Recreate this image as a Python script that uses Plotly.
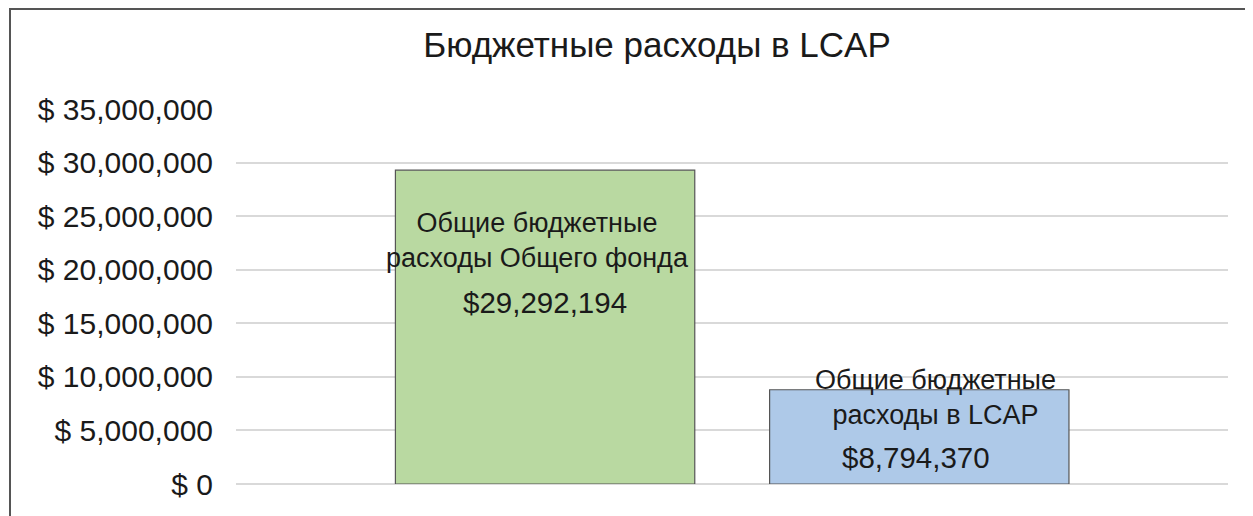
import plotly.graph_objects as go

categories = ["Общие бюджетные расходы Общего фонда", "Общие бюджетные расходы в LCAP"]
values = [29292194, 8794370]
name_labels = ["Общие бюджетные<br>расходы Общего фонда", "Общие бюджетные<br>расходы в LCAP"]
value_labels = ["$29,292,194", "$8,794,370"]
bar_colors = ["#b9d9a1", "#aec9e8"]
tick_vals = [0, 5000000, 10000000, 15000000, 20000000, 25000000, 30000000, 35000000]
tick_text = ["$ {:,}".format(v) for v in tick_vals]

FONT = "Liberation Sans, Arial, Helvetica, sans-serif"
TXT = "#1a1a1a"

fig = go.Figure()
fig.add_trace(go.Bar(
    x=categories, y=values, width=0.8,
    marker=dict(color=bar_colors, line=dict(color="#555555", width=1.2)),
    hoverinfo="skip", showlegend=False,
))

# label placement (pixel offsets from bar top)
name_shift = [(-8, -70), (16, -8)]
value_shift = [(0, -132), (-3, -68)]
for i, c in enumerate(categories):
    fig.add_annotation(x=c, y=values[i], text=name_labels[i], showarrow=False,
                       xshift=name_shift[i][0], yshift=name_shift[i][1],
                       yanchor="middle", align="center",
                       font=dict(family=FONT, size=27, color=TXT))
    fig.add_annotation(x=c, y=values[i], text=value_labels[i], showarrow=False,
                       xshift=value_shift[i][0], yshift=value_shift[i][1],
                       yanchor="middle", align="center",
                       font=dict(family=FONT, size=29.5, color=TXT))

# outer frame
fig.add_shape(type="rect", xref="paper", yref="paper",
              x0=(10 - 236) / 992, x1=1.2, y0=-0.3, y1=(484 - 9) / 375,
              line=dict(color="#555555", width=2), fillcolor="rgba(0,0,0,0)", layer="below")

fig.update_layout(
    width=1253, height=516,
    margin=dict(l=228, r=33, t=101, b=40),
    paper_bgcolor="white", plot_bgcolor="white",
    title=dict(text="Бюджетные расходы в LCAP", x=649 / 1253, xanchor="center",
               y=1 - 37 / 516, yanchor="middle", yref="container",
               font=dict(family=FONT, size=35, color=TXT)),
    xaxis=dict(showticklabels=False, showgrid=False, zeroline=False, showline=False,
               range=[-0.826, 1.825]),
    yaxis=dict(range=[0, 35000000], tickvals=tick_vals, ticktext=tick_text,
               showgrid=True, gridcolor="#d9d9d9", gridwidth=1.5,
               zeroline=True, zerolinecolor="#d9d9d9", zerolinewidth=1.5,
               showline=False, ticks="", ticklabelstandoff=22,
               tickfont=dict(family=FONT, size=30, color=TXT)),
    bargap=0.2,
)

fig.write_html("out.html")
